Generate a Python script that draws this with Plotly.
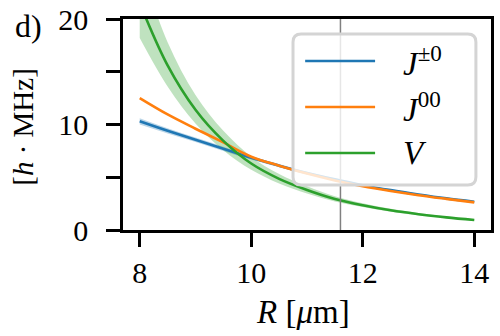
import plotly.graph_objects as go

# R in micrometres, energies in h*MHz
R = [8, 8.5, 9, 9.5, 10, 10.5, 11, 11.5, 12, 12.5, 13, 13.5, 14]

J_pm0 = [10.3, 9.4, 8.55, 7.7, 6.85, 6.1, 5.4, 4.8, 4.25, 3.78, 3.37, 3.0, 2.68]
J_pm0_lo = [10.0, 9.15, 8.33, 7.5, 6.68, 5.95, 5.27, 4.69, 4.16, 3.7, 3.3, 2.94, 2.63]
J_pm0_hi = [10.6, 9.65, 8.77, 7.9, 7.02, 6.25, 5.53, 4.91, 4.34, 3.86, 3.44, 3.06, 2.73]

J_00 = [12.5, 10.95, 9.6, 8.3, 6.95, 6.1, 5.35, 4.7, 4.15, 3.7, 3.3, 2.95, 2.62]

V = [21.5, 15.6, 11.4, 8.45, 6.3, 4.85, 3.8, 2.95, 2.35, 1.87, 1.5, 1.2, 0.95]
V_lo = [18.2, 13.6, 10.1, 7.55, 5.7, 4.4, 3.45, 2.7, 2.17, 1.73, 1.39, 1.12, 0.89]
V_hi = [25.2, 17.8, 12.8, 9.4, 6.95, 5.3, 4.15, 3.2, 2.53, 2.01, 1.61, 1.28, 1.01]

R_mark = 11.6

blue, orange, green = '#1f77b4', '#ff7f0e', '#2ca02c'
font = 'Liberation Serif'
fs = 30

fig = go.Figure()


def band(lo, hi, rgba):
    fig.add_trace(go.Scatter(x=R, y=lo, mode='lines', line=dict(width=0, shape='spline'),
                             hoverinfo='skip', showlegend=False))
    fig.add_trace(go.Scatter(x=R, y=hi, mode='lines', line=dict(width=0, shape='spline'),
                             fill='tonexty', fillcolor=rgba, hoverinfo='skip', showlegend=False))


band(J_pm0_lo, J_pm0_hi, 'rgba(31,119,180,0.3)')
band(V_lo, V_hi, 'rgba(44,160,44,0.3)')

fig.add_trace(go.Scatter(x=R, y=J_pm0, mode='lines', line=dict(color=blue, width=2.6, shape='spline'),
                         showlegend=False))
fig.add_trace(go.Scatter(x=R, y=J_00, mode='lines', line=dict(color=orange, width=2.6, shape='spline'),
                         showlegend=False))
fig.add_trace(go.Scatter(x=R, y=V, mode='lines', line=dict(color=green, width=2.6, shape='spline'),
                         showlegend=False))

# vertical marker
fig.add_shape(type='line', xref='x', yref='paper', x0=R_mark, x1=R_mark, y0=0, y1=1,
              line=dict(color='#808080', width=1.5), layer='above')

# hand-made legend (matplotlib style, rounded frame)
x0, x1, y0, y1 = 0.462, 0.959, 0.213, 0.929
rx, ry = 0.022, 0.038
path = (f'M {x0+rx},{y0} L {x1-rx},{y0} Q {x1},{y0} {x1},{y0+ry} '
        f'L {x1},{y1-ry} Q {x1},{y1} {x1-rx},{y1} L {x0+rx},{y1} '
        f'Q {x0},{y1} {x0},{y1-ry} L {x0},{y0+ry} Q {x0},{y0} {x0+rx},{y0} Z')
fig.add_shape(type='path', xref='paper', yref='paper', path=path,
              fillcolor='rgba(255,255,255,0.8)', line=dict(color='#d4d4d4', width=3), layer='above')

leg_names = ['<i>J</i><sup>±0</sup>', '<i>J</i><sup>00</sup>', '<i>V</i>']
leg_colors = [blue, orange, green]
leg_y = [0.801, 0.583, 0.365]
for name, col, yy in zip(leg_names, leg_colors, leg_y):
    fig.add_shape(type='line', xref='paper', yref='paper', x0=0.495, x1=0.685, y0=yy, y1=yy,
                  line=dict(color=col, width=2.6), layer='above')
    fig.add_annotation(text=name, xref='paper', yref='paper', x=0.755, y=yy, xanchor='left',
                       yanchor='middle', showarrow=False, font=dict(family=font, size=fs + 3, color='black'))

fig.add_annotation(text='d)', xref='paper', yref='paper', x=-0.256, y=0.965, xanchor='center',
                   yanchor='middle', showarrow=False, font=dict(family=font, size=fs + 2, color='black'))
fig.add_annotation(text='[<i>h</i> · MHz]', xref='paper', yref='paper', x=-0.274, y=0.49,
                   xanchor='center', yanchor='middle', textangle=-90, showarrow=False,
                   font=dict(family=font, size=fs - 1, color='black'))
fig.add_annotation(text='<i>R</i> [<i>μ</i>m]', xref='paper', yref='paper', x=0.49, y=-0.39,
                   xanchor='center', yanchor='middle', showarrow=False,
                   font=dict(family=font, size=fs + 3, color='black'))

fig.update_layout(
    width=500, height=336,
    margin=dict(l=123, r=9, t=19, b=106, autoexpand=False),
    plot_bgcolor='white', paper_bgcolor='white',
    font=dict(family=font, size=fs, color='black'),
)
fig.update_xaxes(range=[7.7, 14.3], tickvals=[8, 10, 12, 14], showgrid=False, zeroline=False,
                 showline=True, mirror=True, linecolor='black', linewidth=2.5, automargin=False,
                 ticks='outside', ticklen=14, tickwidth=2.5, tickcolor='black')
fig.update_yaxes(range=[0, 20], tickvals=[0, 10, 20], automargin=False,
                 showgrid=False, zeroline=False, showline=True, mirror=True, linecolor='black',
                 linewidth=2.5, ticks='outside', ticklen=14, tickwidth=2.5, tickcolor='black',
                 minor=dict(tickvals=[5, 15], ticks='outside', ticklen=14, tickwidth=2.5,
                            tickcolor='black'),
                 ticklabelstandoff=12)

fig.write_html('out.html', config={'displayModeBar': False},
               post_script="document.body.style.margin='0';")
